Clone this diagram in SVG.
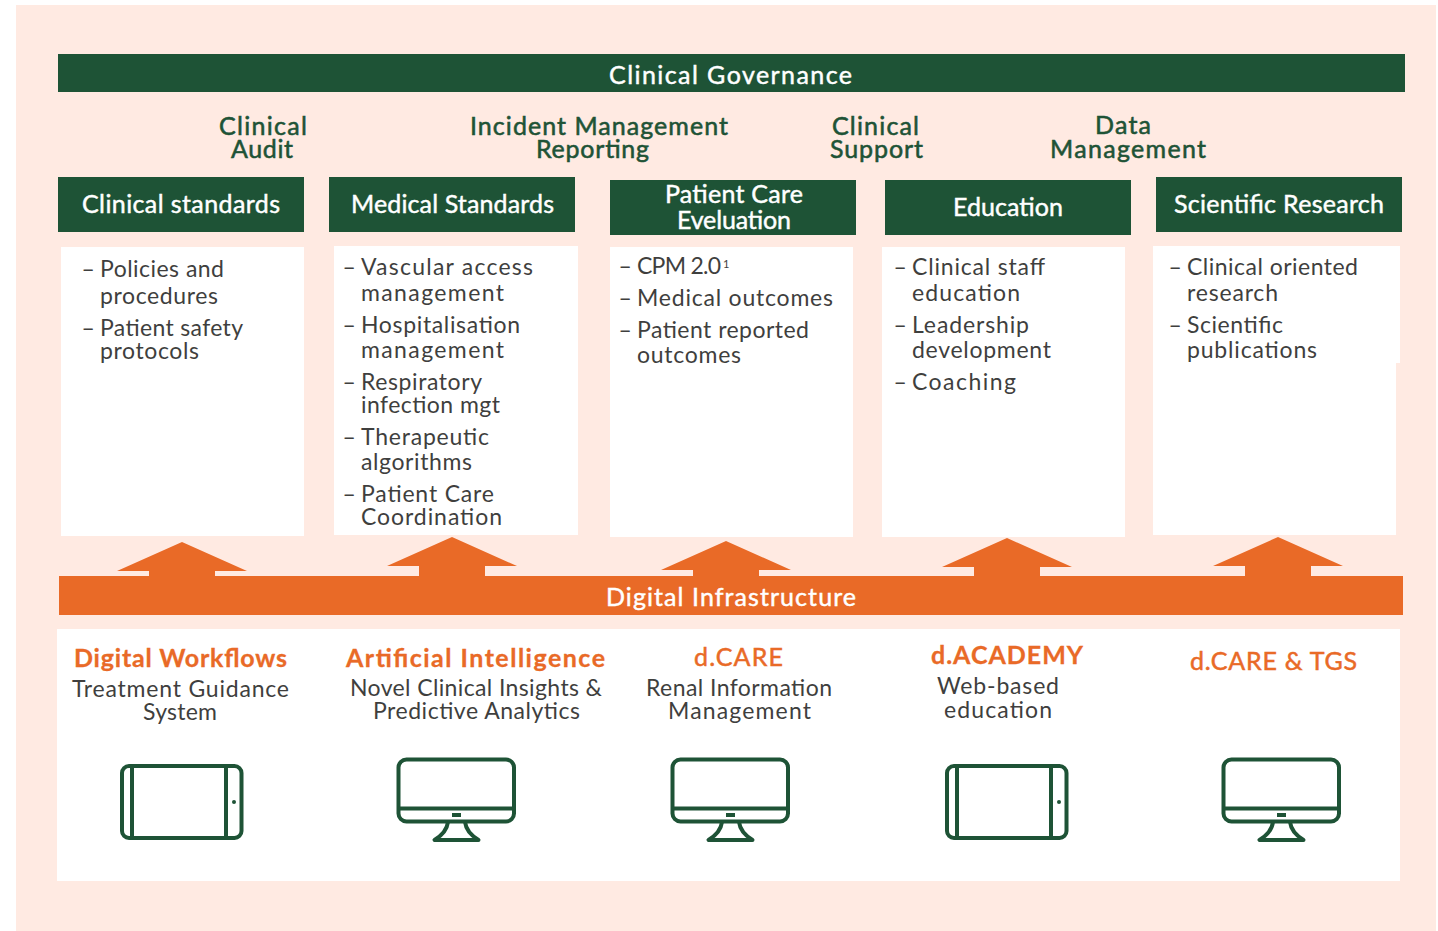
<svg xmlns="http://www.w3.org/2000/svg" width="1438" height="931" viewBox="0 0 1438 931">
<style>
text{font-family:"Lato","Liberation Sans",sans-serif}
.g{fill:#1e5336}.o{fill:#e96a27}.w{fill:#fff}
.t{font-size:25px;fill:#1e5336;stroke:#1e5336;stroke-width:.55px}
.h{font-size:25px;fill:#fff;stroke:#fff;stroke-width:.45px}
.b{font-size:23px;fill:#3f3f3e}
.n{font-size:25px;font-weight:700;fill:#e96a27;stroke:#e96a27;stroke-width:.3px}
.m{font-size:25px;fill:#e96a27;stroke:#e96a27;stroke-width:.5px}
.i{fill:none;stroke:#1e5336;stroke-width:4;stroke-linejoin:round}
</style>
<defs>
<g id="tablet"><rect class="i" x="122" y="766" width="119.500" height="72" rx="7"/><path class="i" d="M132 766V838M226 766V838"/><circle class="g" cx="234" cy="802" r="2"/></g>
<g id="monitor"><rect class="i" x="398.500" y="759.500" width="115.500" height="62" rx="8"/><path class="i" d="M398.500 808.500H514"/><rect class="g" x="452" y="813" width="9" height="4"/><path class="i" stroke-width="3" d="M448 822C447 830 441 836 434.500 840H478.500C472 836 466 830 465 822"/></g>
</defs>
<rect class="w" width="1438" height="931"/>
<rect x="16" y="5" width="1420" height="926" fill="#ffeae2"/>
<g id="governance"><rect class="g" x="58" y="54" width="1347" height="38"/><text class="h" x="609" y="84" textLength="243">Clinical Governance</text></g>
<g id="labels">
<text class="t" x="219" y="135" textLength="88">Clinical</text><text class="t" x="231" y="158" textLength="62">Audit</text>
<text class="t" x="470" y="135" textLength="258">Incident Management</text><text class="t" x="536" y="158" textLength="113">Reporting</text>
<text class="t" x="832" y="135" textLength="87">Clinical</text><text class="t" x="830" y="158" textLength="93">Support</text>
<text class="t" x="1095" y="134" textLength="56">Data</text><text class="t" x="1050" y="158" textLength="156">Management</text>
</g>
<g id="col1"><rect class="g" x="58" y="177" width="246" height="55"/><text class="h" x="82" y="213" textLength="198">Clinical standards</text>
<rect class="w" x="61" y="247" width="243" height="289"/>
<text class="b" x="81.500" y="277">–</text><text class="b" x="100" y="277" textLength="124">Policies and</text><text class="b" x="100" y="304" textLength="118">procedures</text>
<text class="b" x="81.500" y="336">–</text><text class="b" x="100" y="336" textLength="143">Patient safety</text><text class="b" x="100" y="359" textLength="99">protocols</text></g>
<g id="col2"><rect class="g" x="329" y="177" width="246" height="55"/><text class="h" x="351" y="213" textLength="203">Medical Standards</text>
<rect class="w" x="334" y="246" width="244" height="289"/>
<text class="b" x="342.500" y="275">–</text><text class="b" x="361" y="275" textLength="172">Vascular access</text><text class="b" x="361" y="301" textLength="143">management</text>
<text class="b" x="342.500" y="333">–</text><text class="b" x="361" y="333" textLength="159">Hospitalisation</text><text class="b" x="361" y="358" textLength="143">management</text>
<text class="b" x="342.500" y="390">–</text><text class="b" x="361" y="390" textLength="121">Respiratory</text><text class="b" x="361" y="413" textLength="139">infection mgt</text>
<text class="b" x="342.500" y="445">–</text><text class="b" x="361" y="445" textLength="128">Therapeutic</text><text class="b" x="361" y="470" textLength="111">algorithms</text>
<text class="b" x="342.500" y="502">–</text><text class="b" x="361" y="502" textLength="133">Patient Care</text><text class="b" x="361" y="525" textLength="141">Coordination</text></g>
<g id="col3"><rect class="g" x="610" y="180" width="246" height="55"/><text class="h" x="665" y="203" textLength="138">Patient Care</text><text class="h" x="677" y="229" textLength="114">Eveluation</text>
<rect class="w" x="610" y="247" width="243" height="290"/>
<text class="b" x="618.500" y="274">–</text><text class="b" x="637" y="274" textLength="84">CPM 2.0</text><text class="b" x="723" y="268" style="font-size:11px">1</text>
<text class="b" x="618.500" y="306">–</text><text class="b" x="637" y="306" textLength="196">Medical outcomes</text>
<text class="b" x="618.500" y="338">–</text><text class="b" x="637" y="338" textLength="172">Patient reported</text><text class="b" x="637" y="363" textLength="104">outcomes</text></g>
<g id="col4"><rect class="g" x="885" y="180" width="246" height="55"/><text class="h" x="953" y="216" textLength="110">Education</text>
<rect class="w" x="882" y="247" width="243" height="290"/>
<text class="b" x="893.500" y="275">–</text><text class="b" x="912" y="275" textLength="133">Clinical staff</text><text class="b" x="912" y="301" textLength="108">education</text>
<text class="b" x="893.500" y="333">–</text><text class="b" x="912" y="333" textLength="117">Leadership</text><text class="b" x="912" y="358" textLength="139">development</text>
<text class="b" x="893.500" y="390">–</text><text class="b" x="912" y="390" textLength="104">Coaching</text></g>
<g id="col5"><rect class="g" x="1156" y="177" width="246" height="55"/><text class="h" x="1174" y="213" textLength="210">Scientific Research</text>
<path class="w" d="M1153 246H1400V363H1396V535H1153Z"/>
<text class="b" x="1168.500" y="275">–</text><text class="b" x="1187" y="275" textLength="171">Clinical oriented</text><text class="b" x="1187" y="301" textLength="91">research</text>
<text class="b" x="1168.500" y="333">–</text><text class="b" x="1187" y="333" textLength="96">Scientific</text><text class="b" x="1187" y="358" textLength="130">publications</text></g>
<g id="connectors" class="o">
<path d="M182 542L247 571H215V577H149V571H117Z"/>
<path d="M452 537L517 566H485V577H419V566H387Z"/>
<path d="M726 541L791 570H759V577H693V570H661Z"/>
<path d="M1007 538L1072 567H1040V577H974V567H942Z"/>
<path d="M1278 537L1343 566H1311V577H1245V566H1213Z"/>
</g>
<g id="digital"><rect class="o" x="59" y="576" width="1344" height="39"/><text class="h" x="606" y="606" textLength="250">Digital Infrastructure</text></g>
<g id="platforms"><rect class="w" x="57" y="629" width="1343" height="252"/></g>
<g id="p1"><text class="n" x="74" y="667" textLength="213">Digital Workflows</text><text class="b" x="72" y="697" textLength="217">Treatment Guidance</text><text class="b" x="143" y="720" textLength="74">System</text><use href="#tablet"/></g>
<g id="p2"><text class="n" x="346" y="667" textLength="259">Artificial Intelligence</text><text class="b" x="350" y="696" textLength="252">Novel Clinical Insights &amp;</text><text class="b" x="373" y="719" textLength="207">Predictive Analytics</text><use href="#monitor"/></g>
<g id="p3"><text class="m" x="694" y="666" textLength="89">d.CARE</text><text class="b" x="646" y="696" textLength="186">Renal Information</text><text class="b" x="668" y="719" textLength="143">Management</text><use href="#monitor" x="274"/></g>
<g id="p4"><text class="n" x="931" y="664" textLength="152">d.ACADEMY</text><text class="b" x="937" y="694" textLength="122">Web-based</text><text class="b" x="944" y="718" textLength="108">education</text><use href="#tablet" x="825"/></g>
<g id="p5"><text class="m" x="1190" y="670" textLength="167">d.CARE &amp; TGS</text><use href="#monitor" x="825"/></g>
</svg>
